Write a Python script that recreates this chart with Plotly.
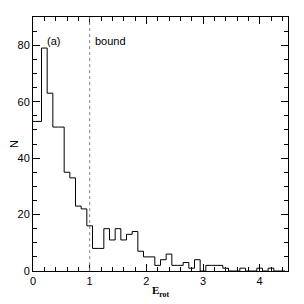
import plotly.graph_objects as go

bin_centers = [0.0, 0.1, 0.2, 0.3, 0.4, 0.5, 0.6, 0.7, 0.8, 0.9,
               1.0, 1.1, 1.2, 1.3, 1.4, 1.5, 1.6, 1.7, 1.8, 1.9,
               2.0, 2.1, 2.2, 2.3, 2.4, 2.5, 2.6, 2.7, 2.8, 2.9,
               3.0, 3.1, 3.2, 3.3, 3.4, 3.5, 3.6, 3.7, 3.8, 3.9,
               4.0, 4.1, 4.2, 4.3, 4.4]
counts = [53, 53, 79, 63, 51, 51, 35, 33, 23, 22,
          16, 8, 8, 15, 11, 15, 11, 13, 14, 7,
          5, 5, 2, 4, 6, 2, 2, 3, 1, 4,
          0, 2, 2, 2, 1, 0, 0, 1, 0, 0,
          1, 0, 1, 0, 0]
bin_width = 0.1
x_ticks = [0, 1, 2, 3, 4]
y_ticks = [0, 20, 40, 60, 80]

edges = [c - bin_width / 2 for c in bin_centers] + [bin_centers[-1] + bin_width / 2]
ys = counts + [counts[-1]]

fig = go.Figure()
fig.add_trace(go.Scatter(x=edges, y=ys, mode="lines", line_shape="hv",
                         line=dict(color="black", width=1), showlegend=False,
                         hoverinfo="skip"))

fig.add_shape(type="line", x0=1, x1=1, y0=0, y1=1, yref="paper",
              line=dict(color="#888888", width=1, dash="dot"))

fig.add_annotation(x=0.22, y=81.5, text="(a)", showarrow=False, xanchor="left",
                   font=dict(family="Liberation Sans, Arial", size=11, color="black"))
fig.add_annotation(x=1.05, y=81.5, text="bound", showarrow=False, xanchor="left",
                   font=dict(family="Liberation Sans, Arial", size=11, color="black"))

axis_common = dict(showgrid=False, zeroline=False, showline=True, linecolor="black",
                   linewidth=1, mirror="ticks", ticks="inside", tickcolor="black",
                   automargin=False,
                   tickfont=dict(family="Liberation Sans, Arial", size=11, color="black"))

fig.update_xaxes(range=[0, 4.5], tickvals=x_ticks, ticklen=7,
                 minor=dict(dtick=0.2, ticks="inside", ticklen=4, tickcolor="black", showgrid=False),
                 title=dict(text="<b>E<sub>rot</sub></b>", standoff=0,
                            font=dict(family="Liberation Serif, Times New Roman", size=11, color="black")),
                 **axis_common)
fig.update_yaxes(range=[0, 90], tickvals=y_ticks, ticklen=7,
                 minor=dict(dtick=5, ticks="inside", ticklen=4, tickcolor="black", showgrid=False),
                 title=dict(text="N", standoff=8,
                            font=dict(family="Liberation Sans, Arial", size=11, color="black")),
                 **axis_common)

fig.update_layout(width=296, height=296, margin=dict(l=25, r=16, t=9, b=33),
                  plot_bgcolor="white", paper_bgcolor="white")

fig.write_html("out.html")
